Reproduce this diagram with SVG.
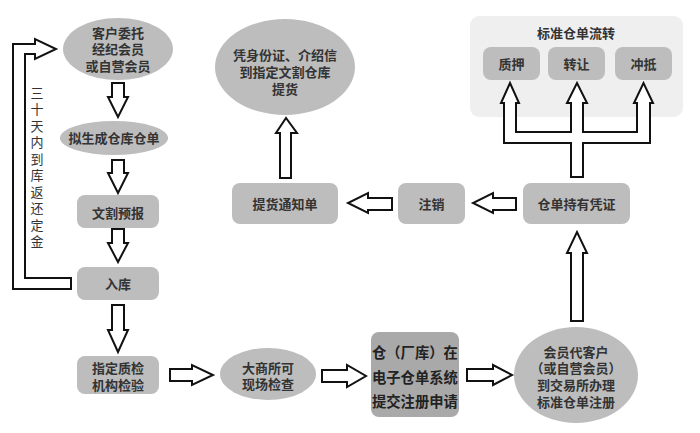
<svg xmlns="http://www.w3.org/2000/svg" width="700" height="433" viewBox="0 0 700 433">
<style>
.n{fill:#bdbdbd}
.d{fill:#a9a9a9}
.t{font-family:"Noto Sans CJK SC","Noto Sans",sans-serif;font-size:13px;font-weight:bold;fill:#333;text-anchor:middle;dominant-baseline:central}
.s{font-family:"Noto Sans CJK SC","Noto Sans",sans-serif;font-size:14.3px;font-weight:bold;fill:#222;dominant-baseline:central}
.v{font-family:"Noto Sans CJK SC","Noto Sans",sans-serif;font-size:13px;fill:#333;text-anchor:middle;dominant-baseline:central}
.a{fill:#fff;stroke:#111;stroke-width:2;stroke-linejoin:miter}
</style>
<rect width="700" height="433" fill="#fff"/>
<g id="container">
<rect x="470" y="16" width="213" height="101" rx="9" fill="#efefef"/>
<text class="t" x="576" y="32">标准仓单流转</text>
</g>
<g id="n1"><ellipse class="n" cx="118" cy="49" rx="55" ry="31"/>
<text class="t" x="118" y="32">客户委托</text><text class="t" x="118" y="48.5">经纪会员</text><text class="t" x="118" y="65">或自营会员</text></g>
<g id="n2"><ellipse class="n" cx="114" cy="138" rx="54" ry="17"/>
<text class="t" x="114" y="137">拟生成仓库仓单</text></g>
<g id="n3"><rect class="n" x="77" y="195" width="82" height="33" rx="8"/>
<text class="t" x="118" y="212">文割预报</text></g>
<g id="n4"><rect class="n" x="77" y="267" width="82" height="33" rx="8"/>
<text class="t" x="118" y="283">入库</text></g>
<g id="n5"><rect class="n" x="77" y="356" width="82" height="38" rx="8"/>
<text class="t" x="118" y="367">指定质检</text><text class="t" x="118" y="384">机构检验</text></g>
<g id="n6"><ellipse class="n" cx="268" cy="374" rx="48" ry="26"/>
<text class="t" x="268" y="367">大商所可</text><text class="t" x="268" y="383">现场检查</text></g>
<g id="n7"><rect class="d" x="371" y="332" width="88" height="85" rx="8"/>
<text class="s" x="372" y="351">仓（厂库）在</text><text class="s" x="372" y="376">电子仓单系统</text><text class="s" x="372" y="400">提交注册申请</text></g>
<g id="n8"><ellipse class="n" cx="576" cy="375" rx="62" ry="48"/>
<text class="t" x="576" y="351">会员代客户</text><text class="t" x="576" y="367">（或自营会员）</text><text class="t" x="576" y="384">到交易所办理</text><text class="t" x="576" y="401">标准仓单注册</text></g>
<g id="n9"><rect class="n" x="523" y="183" width="107" height="41" rx="8"/>
<text class="t" x="576.5" y="203">仓单持有凭证</text></g>
<g id="n10"><rect class="n" x="398" y="183" width="67" height="41" rx="8"/>
<text class="t" x="431.5" y="203">注销</text></g>
<g id="n11"><rect class="n" x="232" y="183" width="106" height="41" rx="8"/>
<text class="t" x="285" y="203">提货通知单</text></g>
<g id="n12"><ellipse class="n" cx="285" cy="67" rx="70" ry="48"/>
<text class="t" x="285" y="54">凭身份证、介绍信</text><text class="t" x="285" y="71">到指定文割仓库</text><text class="t" x="285" y="88">提货</text></g>
<g id="n13"><rect class="n" x="483" y="47" width="57" height="33" rx="8"/><text class="t" x="511.5" y="63">质押</text></g>
<g id="n14"><rect class="n" x="548" y="47" width="57" height="33" rx="8"/><text class="t" x="576.5" y="63">转让</text></g>
<g id="n15"><rect class="n" x="615" y="47" width="57" height="33" rx="8"/><text class="t" x="643.5" y="63">冲抵</text></g>
<g id="connectors">
<polygon class="a" points="112,83 124,83 124,97 128,97 118,117 108,97 112,97"/>
<polygon class="a" points="112,160 124,160 124,173 128,173 118,193 108,173 112,173"/>
<polygon class="a" points="112,229 124,229 124,243 128,243 118,262 108,243 112,243"/>
<polygon class="a" points="112,305 124,305 124,330 128,330 118,352 108,330 112,330"/>
<polygon class="a" points="170,369 192,369 192,365 213,375 192,385 192,381 170,381"/>
<polygon class="a" points="322,370 347,370 347,365 366,376 347,387 347,382 322,382"/>
<polygon class="a" points="467,369 493,369 493,365 512,375 493,385 493,381 467,381"/>
<polygon class="a" points="571,321 571,253 567,253 577,232 587,253 583,253 583,321"/>
<polygon class="a" points="516,198 493,198 493,193 473,203 493,213 493,210 516,210"/>
<polygon class="a" points="392,198 368,198 368,193 348,203 368,213 368,210 392,210"/>
<polygon class="a" points="280,178 280,133 276,133 286,118 297,133 291,133 291,178"/>
<polygon class="a" points="571,177 571,143 504,143 504,103 501,103 510,83 519,103 516,103 516,132 571,132 571,103 567,103 577,83 587,103 583,103 583,132 637,132 637,103 634,103 643.5,83 653,103 650,103 650,143 583,143 583,177"/>
<polygon class="a" points="71,278 25,278 25,54 35,54 35,59 56,49 35,39 35,44 13,44 13,289 71,289"/>
</g>
<g id="loop-label">
<text class="v" x="37" y="92">三</text><text class="v" x="37" y="108.5">十</text><text class="v" x="37" y="125">天</text><text class="v" x="37" y="141.5">内</text><text class="v" x="37" y="158">到</text><text class="v" x="37" y="174.5">库</text><text class="v" x="37" y="191">返</text><text class="v" x="37" y="207.5">还</text><text class="v" x="37" y="224">定</text><text class="v" x="37" y="240.5">金</text>
</g>
</svg>
